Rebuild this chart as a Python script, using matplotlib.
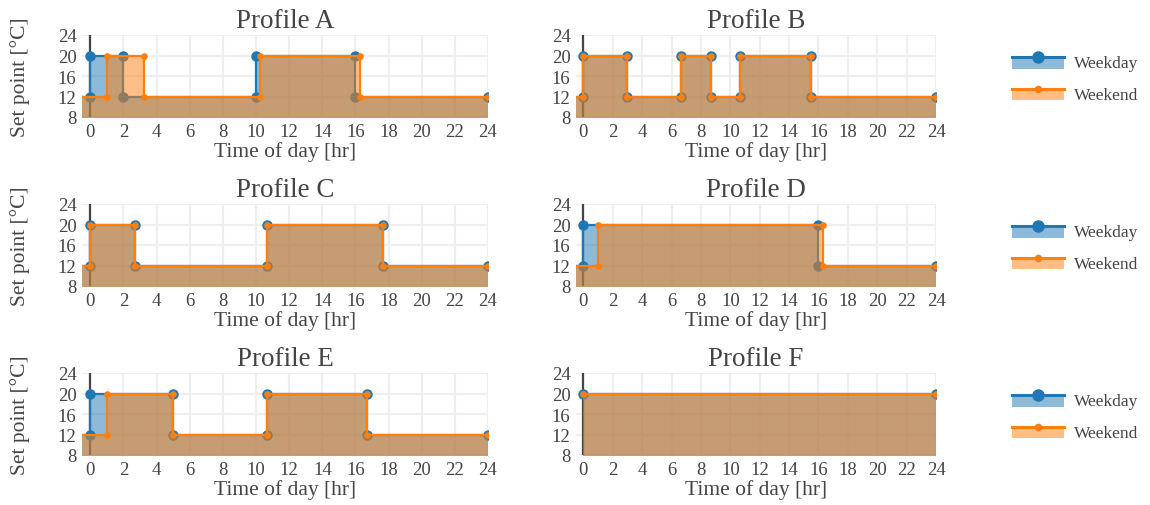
import matplotlib
matplotlib.use('Agg')
import matplotlib.pyplot as plt
from matplotlib.legend_handler import HandlerBase
from matplotlib.lines import Line2D
from matplotlib.patches import Rectangle

# set point schedules, hours of the day vs. set point in degC
a_weekday_t = [-1, 0, 0, 2, 2, 10, 10, 16, 16, 24]
a_weekday_sp = [12, 12, 20, 20, 12, 12, 20, 20, 12, 12]
a_weekend_t = [-1, 1, 1, 3.25, 3.25, 10.25, 10.25, 16.25, 16.25, 24]
a_weekend_sp = [12, 12, 20, 20, 12, 12, 20, 20, 12, 12]

b_weekday_t = [-1, 0, 0, 3, 3, 6.67, 6.67, 8.67, 8.67, 10.67, 10.67, 15.5, 15.5, 24]
b_weekday_sp = [12, 12, 20, 20, 12, 12, 20, 20, 12, 12, 20, 20, 12, 12]
b_weekend_t = [-1, 0, 0, 3, 3, 6.67, 6.67, 8.67, 8.67, 10.67, 10.67, 15.5, 15.5, 24]
b_weekend_sp = [12, 12, 20, 20, 12, 12, 20, 20, 12, 12, 20, 20, 12, 12]

c_weekday_t = [-1, 0, 0, 2.67, 2.67, 10.67, 10.67, 17.67, 17.67, 24]
c_weekday_sp = [12, 12, 20, 20, 12, 12, 20, 20, 12, 12]
c_weekend_t = [-1, 0, 0, 2.67, 2.67, 10.67, 10.67, 17.67, 17.67, 24]
c_weekend_sp = [12, 12, 20, 20, 12, 12, 20, 20, 12, 12]

d_weekday_t = [-1, 0, 0, 16, 16, 24]
d_weekday_sp = [12, 12, 20, 20, 12, 12]
d_weekend_t = [-1, 1, 1, 16.33, 16.33, 24]
d_weekend_sp = [12, 12, 20, 20, 12, 12]

e_weekday_t = [-1, 0, 0, 5, 5, 10.67, 10.67, 16.67, 16.67, 24]
e_weekday_sp = [12, 12, 20, 20, 12, 12, 20, 20, 12, 12]
e_weekend_t = [-1, 1, 1, 5, 5, 10.67, 10.67, 16.67, 16.67, 24]
e_weekend_sp = [12, 12, 20, 20, 12, 12, 20, 20, 12, 12]

f_weekday_t = [0, 24]
f_weekday_sp = [20, 20]
f_weekend_t = [0, 24]
f_weekend_sp = [20, 20]

profile_names = ['A', 'B', 'C', 'D', 'E', 'F']
series_labels = ['Weekday', 'Weekend']
x_ticks = list(range(0, 25, 2))
y_ticks = [8, 12, 16, 20, 24]

profiles = {
    'A': (a_weekday_t, a_weekday_sp, a_weekend_t, a_weekend_sp),
    'B': (b_weekday_t, b_weekday_sp, b_weekend_t, b_weekend_sp),
    'C': (c_weekday_t, c_weekday_sp, c_weekend_t, c_weekend_sp),
    'D': (d_weekday_t, d_weekday_sp, d_weekend_t, d_weekend_sp),
    'E': (e_weekday_t, e_weekday_sp, e_weekend_t, e_weekend_sp),
    'F': (f_weekday_t, f_weekday_sp, f_weekend_t, f_weekend_sp),
}

BLUE = '#1f77b4'
ORANGE = '#ff7f0e'
TXT = '#444444'

plt.rcParams['font.family'] = ['Liberation Serif', 'DejaVu Serif']
plt.rcParams['text.color'] = TXT
plt.rcParams['axes.labelcolor'] = TXT
plt.rcParams['xtick.color'] = TXT
plt.rcParams['ytick.color'] = TXT


class FillLineHandler(HandlerBase):
    # line + marker on top of a filled box, like the plotly legend
    def __init__(self, color, ms):
        super().__init__()
        self.color = color
        self.ms = ms

    def create_artists(self, legend, orig_handle, xdescent, ydescent,
                       width, height, fontsize, trans):
        ytop = height * 0.8 - ydescent
        ybot = -0.15 * height - ydescent
        rect = Rectangle((-xdescent, ybot), width, ytop - ybot,
                         facecolor=self.color, alpha=0.5, edgecolor='none',
                         transform=trans)
        line = Line2D([-xdescent, width - xdescent], [ytop, ytop],
                      color=self.color, lw=2.2, transform=trans)
        mark = Line2D([width / 2 - xdescent], [ytop], marker='o',
                      ms=self.ms, color=self.color, lw=0, transform=trans)
        return [rect, line, mark]


fig = plt.figure(figsize=(11.5, 5.06), dpi=100)

col_x = [(82, 406), (576, 360)]
row_top = [36, 205, 374]
ax_h = 82

for i, name in enumerate(profile_names):
    row, col = divmod(i, 2)
    x0, w = col_x[col]
    ax = fig.add_axes([x0 / 1150, 1 - (row_top[row] + ax_h) / 506, w / 1150, ax_h / 506])
    wd_t, wd_sp, we_t, we_sp = profiles[name]

    ax.axvline(0, color=TXT, lw=1.6, zorder=1)
    ax.fill_between(wd_t, wd_sp, 0, color=BLUE, alpha=0.5, lw=0, zorder=2)
    h1, = ax.plot(wd_t, wd_sp, '-o', color=BLUE, lw=1.6, ms=6.5, zorder=3)
    ax.fill_between(we_t, we_sp, 0, color=ORANGE, alpha=0.5, lw=0, zorder=4)
    h2, = ax.plot(we_t, we_sp, '-o', color=ORANGE, lw=1.6, ms=3.8, zorder=5)

    ax.set_xlim(-0.5, 24)
    ax.set_ylim(8, 24)
    ax.set_xticks(x_ticks)
    ax.set_yticks(y_ticks)
    ax.tick_params(length=0, labelsize=13.5, pad=4)
    ax.grid(color='#eeeeee', lw=1.6, zorder=0)
    ax.set_axisbelow(True)
    for s in ax.spines.values():
        s.set_visible(False)

    ax.set_title('Profile ' + name, fontsize=19.5, color=TXT, pad=6)
    ax.set_xlabel('Time of day [hr]', fontsize=15.5, labelpad=1)
    if col == 0:
        ax.set_ylabel('Set point [°C]', fontsize=15.5, labelpad=20)
    else:
        ax.legend([h1, h2], series_labels,
                  handler_map={h1: FillLineHandler(BLUE, 8), h2: FillLineHandler(ORANGE, 4.5)},
                  loc='upper left', bbox_to_anchor=(1.21, 0.76), frameon=False,
                  fontsize=12.5, handlelength=3.0, handletextpad=0.6,
                  labelspacing=0.9, borderpad=0, borderaxespad=0)

fig.savefig('out.png', dpi=100)
